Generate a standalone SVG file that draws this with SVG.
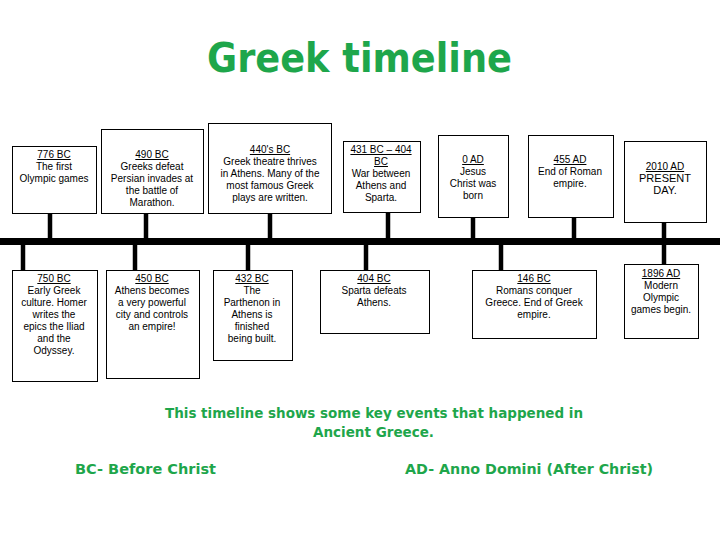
<svg xmlns="http://www.w3.org/2000/svg" width="720" height="540" viewBox="0 0 720 540">
<style>
.box{fill:#fff;stroke:#000;stroke-width:1}
.t{font-family:"Liberation Sans","DejaVu Sans",sans-serif;font-size:10px;fill:#000;text-anchor:middle}
.d{text-decoration:underline}
.p{font-family:"Liberation Sans",Arial,sans-serif;font-size:11px;fill:#000;text-anchor:middle}
.g{font-family:"DejaVu Sans","Liberation Sans",sans-serif;font-weight:bold;fill:#1ea64b}
.stem{stroke:#000;stroke-width:4.5}
</style>
<rect width="720" height="540" fill="#fff"/>
<text class="g" x="207" y="72" font-size="40" textLength="305" lengthAdjust="spacingAndGlyphs">Greek timeline</text>

<g id="connectors">
<rect x="0" y="238" width="720" height="7" fill="#000"/>
<line class="stem" x1="50" y1="213" x2="50" y2="238"/>
<line class="stem" x1="146" y1="213" x2="146" y2="238"/>
<line class="stem" x1="270" y1="213" x2="270" y2="238"/>
<line class="stem" x1="388" y1="212" x2="388" y2="238"/>
<line class="stem" x1="473" y1="217" x2="473" y2="238"/>
<line class="stem" x1="574" y1="217" x2="574" y2="238"/>
<line class="stem" x1="664" y1="222" x2="664" y2="238"/>
<line class="stem" x1="23" y1="245" x2="23" y2="270"/>
<line class="stem" x1="135" y1="245" x2="135" y2="270"/>
<line class="stem" x1="248" y1="245" x2="248" y2="270"/>
<line class="stem" x1="366" y1="245" x2="366" y2="270"/>
<line class="stem" x1="501" y1="245" x2="501" y2="270"/>
<line class="stem" x1="664" y1="245" x2="664" y2="264"/>
</g>

<g id="n776">
<rect class="box" x="12.5" y="146.5" width="84" height="67"/>
<text class="t" x="54" y="158"><tspan class="d">776 BC</tspan><tspan x="54" dy="12">The first</tspan><tspan x="54" dy="12">Olympic games</tspan></text>
</g>
<g id="n490">
<rect class="box" x="101.5" y="129.5" width="102" height="84"/>
<text class="t" x="152" y="158"><tspan class="d">490 BC</tspan><tspan x="152" dy="12">Greeks defeat</tspan><tspan x="152" dy="12">Persian invades at</tspan><tspan x="152" dy="12">the battle of</tspan><tspan x="152" dy="12">Marathon.</tspan></text>
</g>
<g id="n440">
<rect class="box" x="208.5" y="123.5" width="123" height="90"/>
<text class="t" x="270" y="153"><tspan class="d">440's BC</tspan><tspan x="270" dy="12">Greek theatre thrives</tspan><tspan x="270" dy="12">in Athens. Many of the</tspan><tspan x="270" dy="12">most famous Greek</tspan><tspan x="270" dy="12">plays are written.</tspan></text>
</g>
<g id="n431">
<rect class="box" x="343.5" y="141.5" width="77" height="71"/>
<text class="t" x="381" y="153"><tspan class="d">431 BC – 404</tspan><tspan x="381" dy="12" class="d">BC</tspan><tspan x="381" dy="12">War between</tspan><tspan x="381" dy="12">Athens and</tspan><tspan x="381" dy="12">Sparta.</tspan></text>
</g>
<g id="n0">
<rect class="box" x="438.5" y="135.5" width="70" height="82"/>
<text class="t" x="473" y="163"><tspan class="d">0 AD</tspan><tspan x="473" dy="12">Jesus</tspan><tspan x="473" dy="12">Christ was</tspan><tspan x="473" dy="12">born</tspan></text>
</g>
<g id="n455">
<rect class="box" x="528.5" y="135.5" width="85" height="82"/>
<text class="t" x="570" y="163"><tspan class="d">455 AD</tspan><tspan x="570" dy="12">End of Roman</tspan><tspan x="570" dy="12">empire.</tspan></text>
</g>
<g id="n2010">
<rect class="box" x="624.5" y="141.5" width="82" height="81"/>
<text class="t" x="665" y="170"><tspan class="d">2010 AD</tspan></text>
<text class="p" x="665" y="182">PRESENT<tspan x="665" dy="12">DAY.</tspan></text>
</g>

<g id="n750">
<rect class="box" x="12.5" y="270.5" width="85" height="111"/>
<text class="t" x="54" y="282"><tspan class="d">750 BC</tspan><tspan x="54" dy="12">Early Greek</tspan><tspan x="54" dy="12">culture. Homer</tspan><tspan x="54" dy="12">writes the</tspan><tspan x="54" dy="12">epics the Iliad</tspan><tspan x="54" dy="12">and the</tspan><tspan x="54" dy="12">Odyssey.</tspan></text>
</g>
<g id="n450">
<rect class="box" x="106.5" y="270.5" width="93" height="108"/>
<text class="t" x="152" y="282"><tspan class="d">450 BC</tspan><tspan x="152" dy="12">Athens becomes</tspan><tspan x="152" dy="12">a very powerful</tspan><tspan x="152" dy="12">city and controls</tspan><tspan x="152" dy="12">an empire!</tspan></text>
</g>
<g id="n432">
<rect class="box" x="213.5" y="270.5" width="79" height="90"/>
<text class="t" x="252" y="282"><tspan class="d">432 BC</tspan><tspan x="252" dy="12">The</tspan><tspan x="252" dy="12">Parthenon in</tspan><tspan x="252" dy="12">Athens is</tspan><tspan x="252" dy="12">finished</tspan><tspan x="252" dy="12">being built.</tspan></text>
</g>
<g id="n404">
<rect class="box" x="320.5" y="270.5" width="109" height="63"/>
<text class="t" x="374" y="282"><tspan class="d">404 BC</tspan><tspan x="374" dy="12">Sparta defeats</tspan><tspan x="374" dy="12">Athens.</tspan></text>
</g>
<g id="n146">
<rect class="box" x="472.5" y="270.5" width="124" height="68"/>
<text class="t" x="534" y="282"><tspan class="d">146 BC</tspan><tspan x="534" dy="12">Romans conquer</tspan><tspan x="534" dy="12">Greece. End of Greek</tspan><tspan x="534" dy="12">empire.</tspan></text>
</g>
<g id="n1896">
<rect class="box" x="624.5" y="264.5" width="74" height="74"/>
<text class="t" x="661" y="277"><tspan class="d">1896 AD</tspan><tspan x="661" dy="12">Modern</tspan><tspan x="661" dy="12">Olympic</tspan><tspan x="661" dy="12">games begin.</tspan></text>
</g>

<text class="g" x="165" y="418" font-size="14" textLength="418" lengthAdjust="spacingAndGlyphs">This timeline shows some key events that happened in</text>
<text class="g" x="313" y="437" font-size="14" textLength="121" lengthAdjust="spacingAndGlyphs">Ancient Greece.</text>
<text class="g" x="75" y="474" font-size="14" textLength="141" lengthAdjust="spacingAndGlyphs">BC- Before Christ</text>
<text class="g" x="405" y="474" font-size="14" textLength="248" lengthAdjust="spacingAndGlyphs">AD- Anno Domini (After Christ)</text>
</svg>
